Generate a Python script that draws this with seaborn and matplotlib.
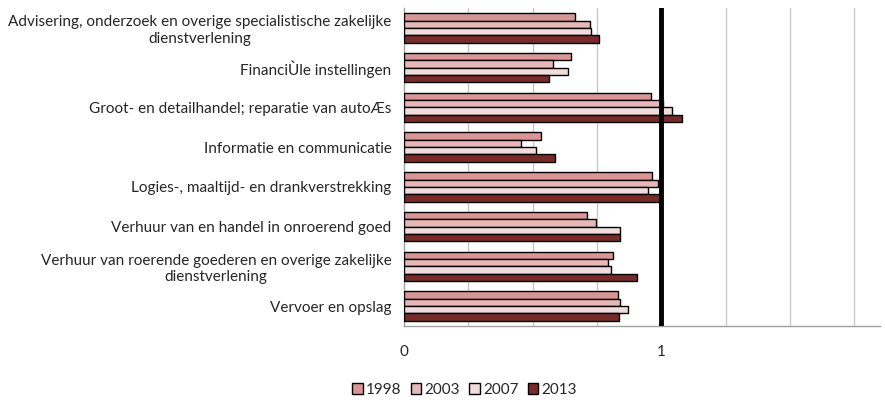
import numpy as np
import pandas as pd
import matplotlib
matplotlib.use("Agg")
import matplotlib.pyplot as plt
import seaborn as sns

categories = [
    "Advisering, onderzoek en overige specialistische zakelijke\ndienstverlening",
    "FinanciÙle instellingen",
    "Groot- en detailhandel; reparatie van autoÆs",
    "Informatie en communicatie",
    "Logies-, maaltijd- en drankverstrekking",
    "Verhuur van en handel in onroerend goed",
    "Verhuur van roerende goederen en overige zakelijke\ndienstverlening",
    "Vervoer en opslag",
]
years = ["1998", "2003", "2007", "2013"]
v1998 = [0.665, 0.650, 0.961, 0.532, 0.965, 0.711, 0.811, 0.831]
v2003 = [0.721, 0.581, 1.008, 0.455, 0.988, 0.747, 0.791, 0.840]
v2007 = [0.725, 0.636, 1.040, 0.512, 0.949, 0.838, 0.804, 0.869]
v2013 = [0.757, 0.563, 1.079, 0.586, 0.998, 0.838, 0.904, 0.834]
colors = ["#D99694", "#E6B9B8", "#F2DCDB", "#772C2A"]

series = [v1998, v2003, v2007, v2013]
rows = []
for y, vals in zip(years, series):
    for c, v in zip(categories, vals):
        rows.append({"cat": c, "year": y, "value": v})
df = pd.DataFrame(rows)

sns.set_style("white")
plt.rcParams["font.family"] = ["Lato", "DejaVu Sans"]

fig = plt.figure(figsize=(8.85, 4.04), dpi=100)
ax = fig.add_axes([404/885, 1-326/404, (880-404)/885, (326-8)/404])

sns.barplot(data=df, y="cat", x="value", hue="year", orient="h",
            order=categories, hue_order=years, palette=colors,
            width=0.74, edgecolor="black", linewidth=1.0, ax=ax,
            saturation=1, zorder=3)

ax.set_xlim(0, 1.85)
ax.set_ylim(len(categories)-0.5, -0.5)
ax.set_xlabel("")
ax.set_ylabel("")

xt = np.arange(0, 1.76, 0.25)
ax.set_xticks(xt)
ax.set_xticklabels(["0" if t == 0 else ("1" if t == 1 else "") for t in xt], fontsize=11)
ax.tick_params(axis="x", length=4, width=1, color="#A0A0A0", pad=10, direction="out")
for t in xt[1:]:
    ax.axvline(t, color="#C8C8C8", lw=1, zorder=1)
ax.axvline(1, color="black", lw=3.5, zorder=5)

ax.set_yticks(range(len(categories)))
ax.set_yticklabels(categories, fontsize=11, multialignment="center")
ax.set_yticks(np.arange(-0.5, len(categories), 1), minor=True)
ax.tick_params(axis="y", which="major", length=0, pad=9)
ax.tick_params(axis="y", which="minor", length=4, width=1, color="#A0A0A0", direction="out")

for s in ["top", "right"]:
    ax.spines[s].set_visible(False)
for s in ["left", "bottom"]:
    ax.spines[s].set_color("#A0A0A0")
    ax.spines[s].set_linewidth(1)

handles, labels = ax.get_legend_handles_labels()
if ax.get_legend() is not None:
    ax.get_legend().remove()
fig.legend(handles, labels, loc="center", bbox_to_anchor=(0.525, 1-390/404),
           ncol=4, frameon=False, handlelength=0.7, handleheight=0.7,
           columnspacing=0.6, handletextpad=0.2, fontsize=11)

fig.savefig("out.png", dpi=100)
